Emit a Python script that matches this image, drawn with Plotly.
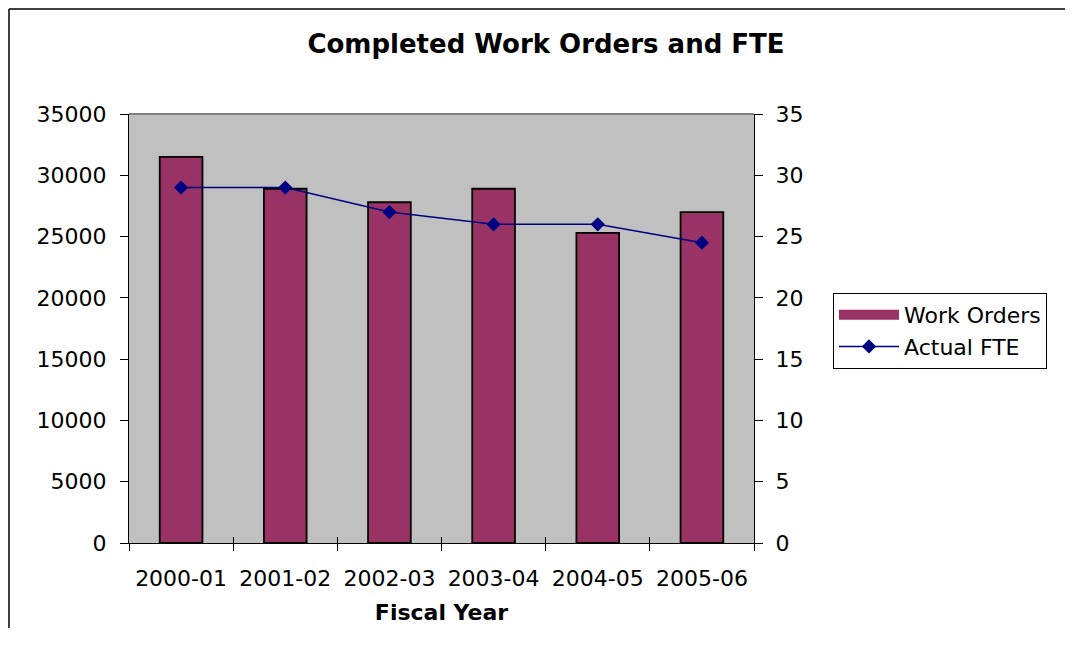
"""
Completed work orders (bars, left axis) against actual FTE (line, right axis)
by fiscal year, styled after the classic Excel combo chart.
"""
import plotly.graph_objects as go

# --------------------------------------------------------------------------
# Data
# --------------------------------------------------------------------------
fiscal_years = ["2000-01", "2001-02", "2002-03", "2003-04", "2004-05", "2005-06"]
work_orders = [31500, 28900, 27800, 28900, 25300, 27000]
actual_fte = [29, 29, 27, 26, 26, 24.5]

# --------------------------------------------------------------------------
# Styling
# --------------------------------------------------------------------------
FONT = "DejaVu Sans, Arial, sans-serif"
BAR_COLOR = "#993366"
LINE_COLOR = "#000080"
PLOT_BG = "#C0C0C0"

# The page body adds an 8px margin on every side, so the figure is kept a
# little smaller than the window to avoid scrollbars.
WIDTH, HEIGHT = 1057, 620
MARGIN = {"l": 121, "r": 311, "t": 106, "b": 85}
PLOT_W = WIDTH - MARGIN["l"] - MARGIN["r"]
PLOT_H = HEIGHT - MARGIN["t"] - MARGIN["b"]

axis_common = {
    "showgrid": False,
    "showline": True,
    "linecolor": "black",
    "linewidth": 1,
    "tickcolor": "black",
    "zeroline": False,
    "ticks": "outside",
    "automargin": False,
}

# Overlay axes that only add the inner half of Excel's "cross" tick marks.
inner_ticks = {
    "showgrid": False,
    "showline": False,
    "zeroline": False,
    "showticklabels": False,
    "ticks": "inside",
    "ticklen": 6,
    "tickcolor": "black",
    "automargin": False,
}

fig = go.Figure()

fig.add_trace(
    go.Bar(
        x=fiscal_years,
        y=work_orders,
        name="Work Orders",
        marker={"color": BAR_COLOR, "line": {"color": "black", "width": 1.8}},
        width=0.41,
        yaxis="y",
        showlegend=False,
    )
)

# Legend-only entry so the bar key is drawn as a wide swatch, like Excel's.
fig.add_trace(
    go.Scatter(
        x=[None],
        y=[None],
        name="Work Orders",
        mode="lines",
        line={"color": BAR_COLOR, "width": 13},
    )
)

fig.add_trace(
    go.Scatter(
        x=fiscal_years,
        y=actual_fte,
        name="Actual FTE",
        mode="lines+markers",
        line={"color": LINE_COLOR, "width": 1.5},
        marker={"symbol": "diamond", "size": 11, "color": LINE_COLOR},
        xaxis="x2",
        yaxis="y2",
    )
)

fig.update_layout(
    width=WIDTH,
    height=HEIGHT,
    margin=MARGIN,
    paper_bgcolor="white",
    plot_bgcolor=PLOT_BG,
    font={"family": FONT, "size": 22, "color": "black"},
    title={
        "text": "<b>Completed Work Orders and FTE</b>",
        "font": {"family": FONT, "size": 26, "color": "black"},
        "x": 538 / WIDTH,
        "xanchor": "center",
        "y": 1 - 36 / HEIGHT,
        "yanchor": "middle",
        "xref": "container",
        "yref": "container",
    },
    xaxis={
        **axis_common,
        "type": "category",
        "tickson": "boundaries",
        "ticklen": 7,
        "ticklabelstandoff": 16,
        "title": {
            "text": "<b>Fiscal Year</b>",
            "font": {"family": FONT, "size": 22},
            "standoff": 14,
        },
    },
    xaxis2={
        **inner_ticks,
        "type": "category",
        "tickson": "boundaries",
        "overlaying": "x",
        "matches": "x",
        "anchor": "y",
        "side": "bottom",
    },
    yaxis={
        **axis_common,
        "range": [0, 35000],
        "dtick": 5000,
        "tickformat": "d",
        "ticklen": 8,
        "ticklabelstandoff": 9,
    },
    yaxis2={
        **axis_common,
        "range": [0, 35],
        "dtick": 5,
        "overlaying": "y",
        "side": "right",
        "anchor": "x",
        "ticklen": 8,
        "ticklabelstandoff": 8,
    },
    yaxis3={
        **inner_ticks,
        "range": [0, 35],
        "dtick": 5,
        "overlaying": "y",
        "side": "left",
        "anchor": "x",
    },
    yaxis4={
        **inner_ticks,
        "range": [0, 35],
        "dtick": 5,
        "overlaying": "y",
        "side": "right",
        "anchor": "x",
    },
    legend={
        "x": (825 - MARGIN["l"]) / PLOT_W,
        "y": (HEIGHT - MARGIN["b"] - 285) / PLOT_H,
        "xanchor": "left",
        "yanchor": "top",
        "bordercolor": "black",
        "borderwidth": 1,
        "bgcolor": "white",
        "font": {"family": FONT, "size": 22},
        "itemwidth": 60,
        "tracegroupgap": 4,
    },
    showlegend=True,
    shapes=[
        # grey top edge of the plot area
        {
            "type": "line",
            "xref": "paper",
            "yref": "paper",
            "x0": 0,
            "x1": 1,
            "y0": 1,
            "y1": 1,
            "line": {"color": "#808080", "width": 2},
        },
        # outer chart border: only its left and top edges fall in the frame
        {
            "type": "line",
            "xref": "paper",
            "yref": "paper",
            "x0": (1 - MARGIN["l"]) / PLOT_W,
            "x1": (1 - MARGIN["l"]) / PLOT_W,
            "y0": -0.5,
            "y1": (HEIGHT - MARGIN["b"] - 1) / PLOT_H,
            "line": {"color": "black", "width": 1.5},
            "layer": "below",
        },
        {
            "type": "line",
            "xref": "paper",
            "yref": "paper",
            "x0": (1 - MARGIN["l"]) / PLOT_W,
            "x1": 1.8,
            "y0": (HEIGHT - MARGIN["b"] - 1) / PLOT_H,
            "y1": (HEIGHT - MARGIN["b"] - 1) / PLOT_H,
            "line": {"color": "black", "width": 1.5},
            "layer": "below",
        },
    ],
)

fig.write_html("out.html")
